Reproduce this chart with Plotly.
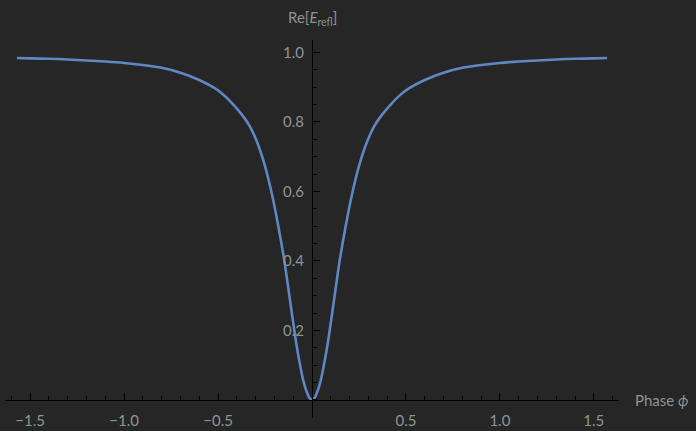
import plotly.graph_objects as go

# Data
phase = [-1.5708, -1.5, -1.4, -1.3, -1.2, -1.1, -1.0, -0.9, -0.8, -0.7, -0.6, -0.52,
         -0.47, -0.42, -0.37, -0.33, -0.29, -0.25, -0.214, -0.18, -0.147, -0.12, -0.094,
         -0.08, -0.064, -0.046, -0.03, -0.015, 0.0, 0.015, 0.03, 0.046, 0.064, 0.08,
         0.094, 0.12, 0.147, 0.18, 0.214, 0.25, 0.29, 0.33, 0.37, 0.42, 0.47, 0.52,
         0.6, 0.7, 0.8, 0.9, 1.0, 1.1, 1.2, 1.3, 1.4, 1.5, 1.5708]
re_refl = [0.984, 0.983, 0.982, 0.980, 0.977, 0.974, 0.970, 0.964, 0.956, 0.942, 0.921, 0.898,
           0.878, 0.851, 0.819, 0.787, 0.739, 0.673, 0.594, 0.502, 0.400, 0.298, 0.200,
           0.150, 0.102, 0.055, 0.026, 0.007, 0.0, 0.007, 0.026, 0.055, 0.102, 0.150,
           0.200, 0.298, 0.400, 0.502, 0.594, 0.673, 0.739, 0.787, 0.819, 0.851, 0.878, 0.898,
           0.921, 0.942, 0.956, 0.964, 0.970, 0.974, 0.977, 0.980, 0.982, 0.983, 0.984]

x_ticks = [-1.5, -1.0, -0.5, 0.5, 1.0, 1.5]
x_tick_text = ["\u22121.5", "\u22121.0", "\u22120.5", "0.5", "1.0", "1.5"]
y_ticks = [0.2, 0.4, 0.6, 0.8, 1.0]
y_tick_text = ["0.2", "0.4", "0.6", "0.8", "1.0"]

x_range = [-1.634, 1.634]
y_range = [-0.052, 1.036]

BG = "#262626"
LINE = "#5F87C3"
TXT = "#8C9595"
AX = "#000000"
FONT = "Lato"
FS = 15

fig = go.Figure()
fig.add_trace(go.Scatter(
    x=phase, y=re_refl, mode="lines",
    line=dict(color=LINE, width=2.6, shape="spline", smoothing=0.9),
    hoverinfo="skip", showlegend=False,
))

fig.update_layout(
    width=696, height=431,
    margin=dict(l=5, r=77, t=40, b=13, autoexpand=False),
    paper_bgcolor=BG, plot_bgcolor=BG,
    font=dict(family=FONT, size=FS, color=TXT),
    xaxis=dict(
        range=x_range, showgrid=False, zeroline=False, automargin=False,
        anchor="free", position=(0 - y_range[0]) / (y_range[1] - y_range[0]),
        showline=True, linecolor=AX, linewidth=1,
        tickmode="array", tickvals=x_ticks, ticktext=x_tick_text,
        ticks="inside", ticklen=7, tickcolor=AX, tickwidth=1,
        ticklabelstandoff=7,
        minor=dict(dtick=0.1, tick0=0, ticks="inside", ticklen=4, tickcolor=AX, tickwidth=1, showgrid=False),
        tickfont=dict(family=FONT, size=FS, color=TXT),
    ),
    yaxis=dict(
        range=y_range, showgrid=False, zeroline=False, automargin=False,
        anchor="free", position=(0 - x_range[0]) / (x_range[1] - x_range[0]),
        showline=True, linecolor=AX, linewidth=1,
        tickmode="array", tickvals=y_ticks, ticktext=y_tick_text,
        ticks="inside", ticklen=7, tickcolor=AX, tickwidth=1,
        ticklabelstandoff=5,
        minor=dict(dtick=0.05, tick0=0, ticks="inside", ticklen=4, tickcolor=AX, tickwidth=1, showgrid=False),
        tickfont=dict(family=FONT, size=FS, color=TXT),
    ),
    annotations=[
        dict(text="Re[<i>E</i><sub>refl</sub>]", xref="x", yref="y",
             x=0, y=y_range[1], xanchor="center", yanchor="bottom", yshift=10,
             showarrow=False, font=dict(family=FONT, size=FS, color=TXT)),
        dict(text="Phase <i>\u03d5</i>", xref="x", yref="y",
             x=x_range[1], y=0, xanchor="left", yanchor="middle", xshift=14,
             showarrow=False, font=dict(family=FONT, size=FS, color=TXT)),
    ],
)

fig.write_html("out.html", config={"displayModeBar": False},
               post_script="document.body.style.margin='0';document.body.style.background='#262626';")
